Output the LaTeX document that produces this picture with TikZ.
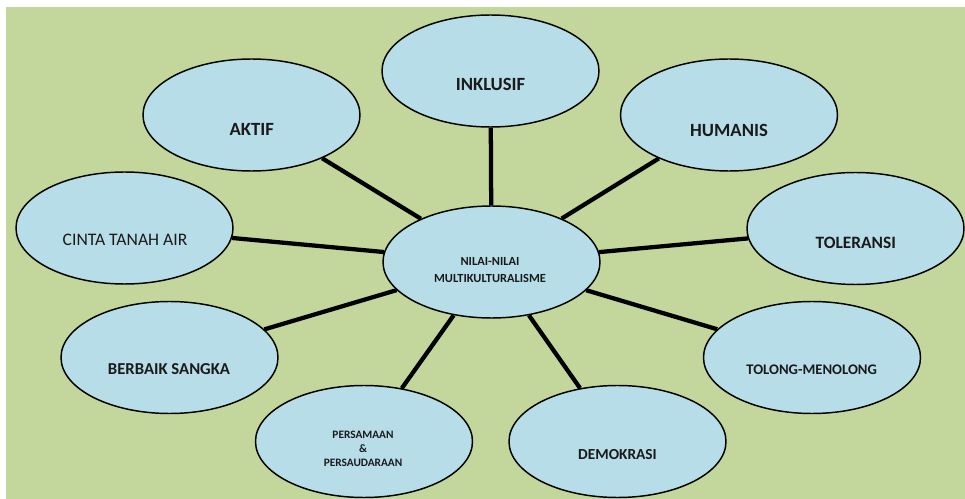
\documentclass[tikz,border=0pt]{standalone}
\usepackage{fontspec}
\setmainfont{Carlito}
\usetikzlibrary{shapes.geometric}
\definecolor{bggreen}{HTML}{C3D69B}
\definecolor{bubblue}{HTML}{B7DEE8}
\definecolor{ink}{HTML}{1A1A1A}

\begin{document}
\begin{tikzpicture}[x=0.75pt,y=-0.75pt,
  bubble/.style={ellipse, draw=black, line width=1.1pt, fill=bubblue,
    minimum width=162.75pt, minimum height=84pt, inner sep=0pt},
  caption/.style={text=ink, font=\bfseries, inner sep=0pt, anchor=base},
  stack/.style={text=ink, font=\bfseries, inner sep=0pt, align=center},
  spoke/.style={line width=3.2pt, draw=black}]
\useasboundingbox (0,0) rectangle (965,499);
\fill[white] (0,0) rectangle (965,499);
\fill[bggreen] (6,7) rectangle (965,499);

% bubbles
\node[bubble] (hub)  at (491.5,262) {};
\node[bubble] (inkl) at (490.5,71) {};
\node[bubble] (akt)  at (251.5,115) {};
\node[bubble] (hum)  at (729,115) {};
\node[bubble] (cin)  at (124.5,228) {};
\node[bubble] (tol)  at (855.5,228.5) {};
\node[bubble] (ber)  at (169.5,357.5) {};
\node[bubble] (tlm)  at (812,357.5) {};
\node[bubble] (per)  at (364,441.5) {};
\node[bubble] (dem)  at (617.5,441.5) {};

% spokes from the hub
\foreach \n in {inkl,akt,hum,cin,tol,ber,tlm,per,dem}
  \draw[spoke] (hub) -- (\n);

% captions
\node[stack, font=\bfseries\fontsize{9.3pt}{12.75pt}\selectfont] (hub-t) at (490,270) {NILAI-NILAI\\MULTIKULTURALISME};
\node[caption, font=\bfseries\fontsize{14pt}{16pt}\selectfont] (inkl-t) at (490.5,91) {INKLUSIF};
\node[caption, font=\bfseries\fontsize{14pt}{16pt}\selectfont] (akt-t) at (251.7,136) {AKTIF};
\node[caption, font=\bfseries\fontsize{14pt}{16pt}\selectfont] (hum-t) at (729,136.7) {HUMANIS};
\node[caption, font=\fontsize{13.2pt}{15pt}\selectfont] (cin-t) at (125,246) {CINTA TANAH AIR};
\node[caption, font=\bfseries\fontsize{13pt}{15pt}\selectfont] (tol-t) at (855.8,248.3) {TOLERANSI};
\node[caption, font=\bfseries\fontsize{12.5pt}{14pt}\selectfont] (ber-t) at (169,374) {BERBAIK SANGKA};
\node[caption, font=\bfseries\fontsize{11pt}{13pt}\selectfont] (tlm-t) at (811.7,374) {TOLONG-MENOLONG};
\node[stack, font=\bfseries\fontsize{8.5pt}{10.5pt}\selectfont] (per-t) at (363,449.3) {PERSAMAAN\\\&\\PERSAUDARAAN};
\node[caption, font=\bfseries\fontsize{11.5pt}{13pt}\selectfont] (dem-t) at (617.5,459.3) {DEMOKRASI};
\end{tikzpicture}
\end{document}
